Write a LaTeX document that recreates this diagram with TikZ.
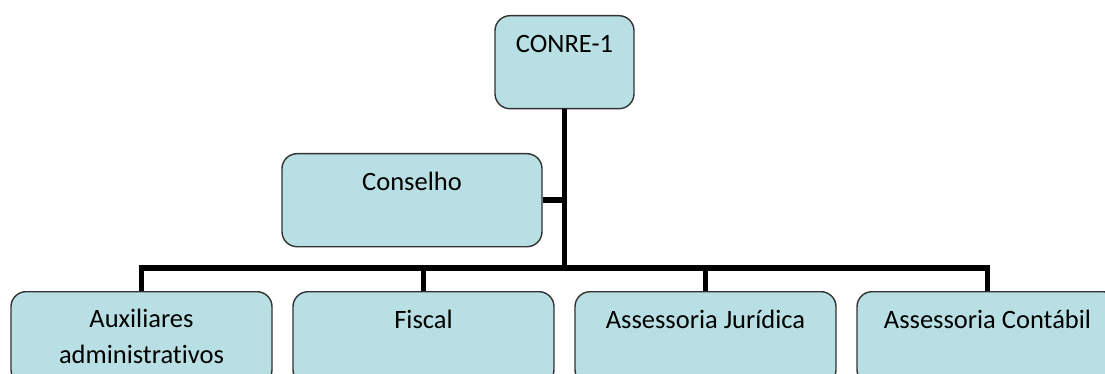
\documentclass[tikz,border=0pt]{standalone}
\usepackage{fontspec}
\setmainfont{Carlito}[Ligatures=NoCommon]
\definecolor{boxfill}{RGB}{184,223,227}
\definecolor{boxline}{RGB}{50,50,50}
\begin{document}
\begin{tikzpicture}[x=1pt,y=-1pt,
  orgbox/.style={draw=boxline, line width=1.4pt, fill=boxfill, rounded corners=15pt,
    anchor=north, inner sep=0pt, align=center,
    font=\fontsize{26.5}{36}\selectfont, text height=37pt, text depth=56pt},
  wide/.style={minimum width=261pt},
  conn/.style={line width=5.5pt, draw=black}]
\useasboundingbox (0,0) rectangle (1105,374);
\clip (0,0) rectangle (1105,374);
\node[orgbox, minimum width=139pt] (conre) at (564.5,15) {CONRE-1};
\node[orgbox, minimum width=260pt] (cons) at (412,153) {Conselho};
\node[orgbox, wide, text height=72pt, text depth=21pt] (aux) at (141.5,291) {Auxiliares\\administrativos};
\node[orgbox, wide] (fisc) at (423.5,291) {Fiscal};
\node[orgbox, wide] (jur) at (705.5,291) {Assessoria Jurídica};
\node[orgbox, wide] (cont) at (987.5,291) {Assessoria Contábil};
\coordinate (bus) at (564.5,268);
\draw[conn] (conre.south) -- (conre.south |- bus);
\draw[conn] (cons.east) -- (cons.east -| conre.south);
\draw[conn] (aux.north) |- (bus) -| (cont.north);
\draw[conn] (fisc.north) -- (fisc.north |- bus);
\draw[conn] (jur.north) -- (jur.north |- bus);
\end{tikzpicture}
\end{document}
